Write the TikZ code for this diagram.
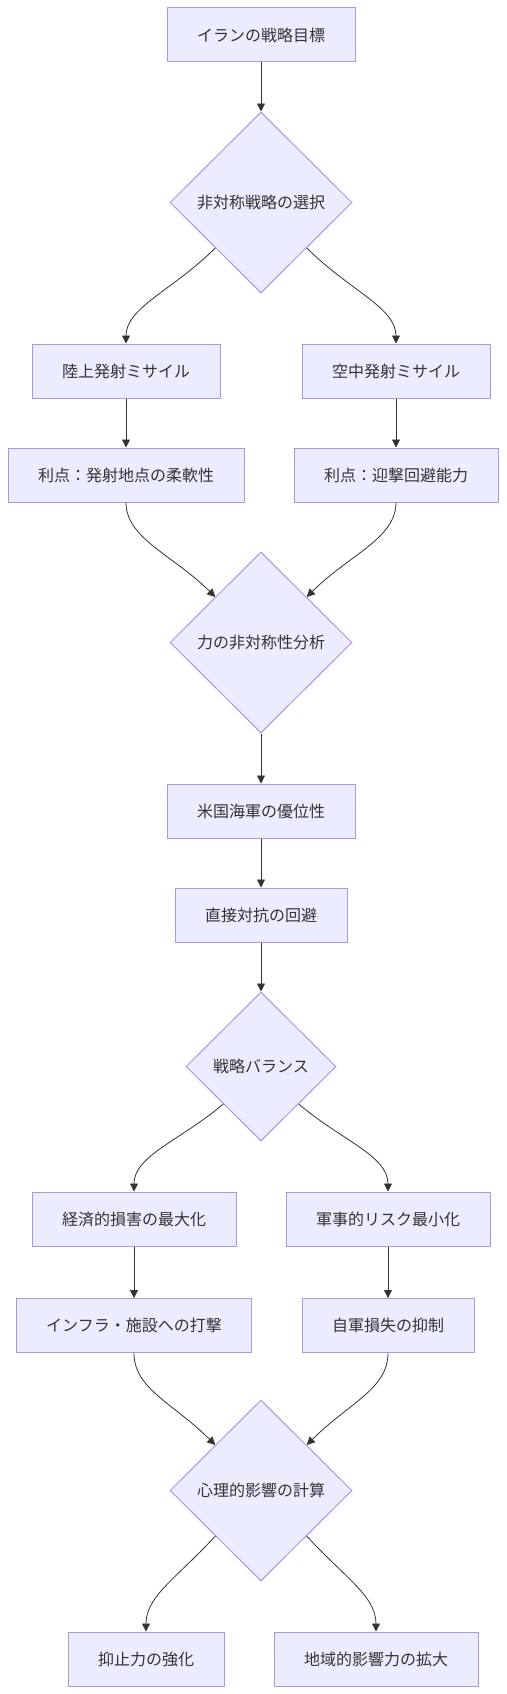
\documentclass[tikz,border=0pt]{standalone}
\usepackage{fontspec}
\setmainfont{Noto Sans CJK JP}
\usetikzlibrary{shapes.geometric,arrows.meta}

\definecolor{nodefill}{HTML}{ECECFF}
\definecolor{nodeline}{HTML}{9370DB}
\definecolor{ink}{HTML}{333333}

\tikzset{
  box/.style={rectangle, draw=nodeline!75, fill=nodefill, line width=1pt,
              inner xsep=30pt, inner ysep=0pt, minimum height=54pt,
              text=ink, font=\fontsize{16pt}{19pt}\selectfont},
  decision/.style={diamond, draw=nodeline!75, fill=nodefill, line width=1pt,
              inner sep=0pt, aspect=1, text=ink,
              font=\fontsize{16pt}{19pt}\selectfont},
  link/.style={draw=ink, line width=0.8pt, -{Triangle[length=8pt,width=8pt]}}
}

\begin{document}
\begin{tikzpicture}[x=1pt, y=-1pt]
  \useasboundingbox (0,0) rectangle (506,1694);

  % Nodes
  \draw (261,35)    node(G)  [box] {イランの戦略目標};
  \draw (261,202.5) node(D1) [decision, minimum width=182pt, minimum height=181pt] {非対称戦略の選択};
  \draw (126,371)   node(L1) [box] {陸上発射ミサイル};
  \draw (396,371)   node(R1) [box] {空中発射ミサイル};
  \draw (126,475)   node(L2) [box] {利点：発射地点の柔軟性};
  \draw (396,475)   node(R2) [box] {利点：迎撃回避能力};
  \draw (261,642.5) node(D2) [decision, minimum width=182pt, minimum height=181pt] {力の非対称性分析};
  \draw (261,811)   node(U)  [box] {米国海軍の優位性};
  \draw (261,915)   node(A)  [box] {直接対抗の回避};
  \draw (261,1066.5) node(D3) [decision, minimum width=150pt, minimum height=149pt] {戦略バランス};
  \draw (134,1219)  node(L3) [box] {経済的損害の最大化};
  \draw (388,1219)  node(R3) [box] {軍事的リスク最小化};
  \draw (134,1325.5) node(L4) [box] {インフラ・施設への打撃};
  \draw (388,1325.5) node(R4) [box] {自軍損失の抑制};
  \draw (261,1490.5) node(D4) [decision, minimum width=182pt, minimum height=181pt] {心理的影響の計算};
  \draw (146,1659)  node(L5) [box] {抑止力の強化};
  \draw (376,1659)  node(R5) [box] {地域的影響力の拡大};

  % Edges
  \draw[link] (G.south) -- (D1.north);
  \draw[link] (D1.south west) .. controls +(-42,42) and +(0,-36) .. (L1.north);
  \draw[link] (D1.south east) .. controls +(42,42) and +(0,-36) .. (R1.north);
  \draw[link] (L1.south) -- (L2.north);
  \draw[link] (R1.south) -- (R2.north);
  \draw[link] (L2.south) .. controls +(0,36) and +(-42,-42) .. (D2.north west);
  \draw[link] (R2.south) .. controls +(0,36) and +(42,-42) .. (D2.north east);

  \draw[link] (D2.south) -- (U.north);
  \draw[link] (U.south)  -- (A.north);
  \draw[link] (A.south)  -- (D3.north);

  \draw[link] (D3.south west) .. controls +(-42,36) and +(0,-36) .. (L3.north);
  \draw[link] (D3.south east) .. controls +(42,36) and +(0,-36) .. (R3.north);
  \draw[link] (L3.south) -- (L4.north);
  \draw[link] (R3.south) -- (R4.north);
  \draw[link] (L4.south) .. controls +(0,36) and +(-42,-42) .. (D4.north west);
  \draw[link] (R4.south) .. controls +(0,36) and +(42,-42) .. (D4.north east);

  \draw[link] (D4.south west) .. controls +(-36,40) and +(0,-36) .. (L5.north);
  \draw[link] (D4.south east) .. controls +(36,40) and +(0,-36) .. (R5.north);
\end{tikzpicture}
\end{document}
